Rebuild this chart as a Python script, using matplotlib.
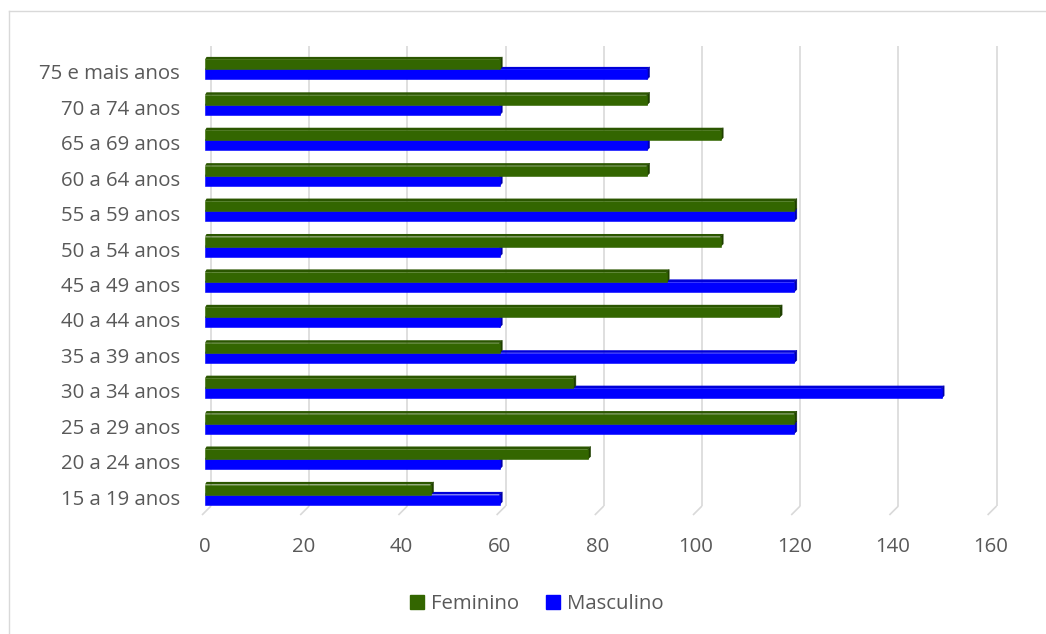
import matplotlib
matplotlib.use("Agg")
import matplotlib.pyplot as plt
from matplotlib.patches import Polygon, Rectangle, Patch
from matplotlib.lines import Line2D

plt.rcParams['font.family'] = ['Open Sans', 'DejaVu Sans']

# Age groups (bottom to top) and counts per sex
age_groups = ["15 a 19 anos", "20 a 24 anos", "25 a 29 anos", "30 a 34 anos",
              "35 a 39 anos", "40 a 44 anos", "45 a 49 anos", "50 a 54 anos",
              "55 a 59 anos", "60 a 64 anos", "65 a 69 anos", "70 a 74 anos",
              "75 e mais anos"]
feminino = [46, 78, 120, 75, 60, 117, 94, 105, 120, 90, 105, 90, 60]
masculino = [60, 60, 120, 150, 120, 60, 120, 60, 120, 60, 90, 60, 90]
x_ticks = [0, 20, 40, 60, 80, 100, 120, 140, 160]

W, H, DPI = 1046, 634, 100
fig = plt.figure(figsize=(W / DPI, H / DPI), dpi=DPI)

# axes placed in pixel terms
ax_l, ax_r, ax_t, ax_b = 205, 990.6, 46, 515
ax = fig.add_axes([ax_l / W, 1 - ax_b / H, (ax_r - ax_l) / W, (ax_b - ax_t) / H])
xmax = 160
ymin, ymax = -0.508, 12.734
ax.set_xlim(0, xmax)
ax.set_ylim(ymin, ymax)

px_x = (ax_r - ax_l) / xmax            # pixels per x unit
px_y = (ax_b - ax_t) / (ymax - ymin)   # pixels per y unit

def ux(p):
    return p / px_x

def uy(p):
    return p / px_y

for s in ax.spines.values():
    s.set_visible(False)
ax.set_facecolor("none")

# 3D-style gridlines: back wall vertical plus a short floor diagonal
grid_c = "#d9d9d9"
back_dx, floor_dx, floor_dy = 6, -3, 9
for v in x_ticks:
    xb = v + ux(back_dx)
    xf = v + ux(floor_dx)
    ax.add_line(Line2D([xb, xb], [ymax, ymin + uy(floor_dy)], color=grid_c,
                       lw=1.2, zorder=0.5, solid_capstyle="butt", clip_on=False))
    ax.add_line(Line2D([xb, xf], [ymin + uy(floor_dy), ymin], color=grid_c,
                       lw=1.2, zorder=0.5, solid_capstyle="butt", clip_on=False))

# bars drawn with a small depth (top face and right side face)
bar_h = uy(10)
dep_x, dep_y = ux(2.6), uy(2.6)
shift = uy(2.5)

def bar3d(y0, value, front, top, side, z):
    x0, x1 = 0, value
    y1 = y0 + bar_h
    ax.add_patch(Polygon([(x0, y1), (x1, y1), (x1 + dep_x, y1 + dep_y),
                          (x0 + dep_x * 0.6, y1 + dep_y)], closed=True,
                         facecolor=top, edgecolor="none", zorder=z))
    ax.add_patch(Polygon([(x1, y0), (x1 + dep_x, y0 + dep_y),
                          (x1 + dep_x, y1 + dep_y), (x1, y1)], closed=True,
                         facecolor=side, edgecolor=side, lw=0.4, zorder=z))
    ax.add_patch(Rectangle((x0, y0), x1 - x0, bar_h, facecolor=front,
                           edgecolor=front, lw=0.4, zorder=z + 0.1))

green, green_top, green_side = "#336600", "#2b5600", "#1f4000"
blue, blue_top, blue_side = "#0000ff", "#0000d8", "#0000a8"

for i, (f, m) in enumerate(zip(feminino, masculino)):
    base = i + shift
    bar3d(base - bar_h, m, blue, blue_top, blue_side, 2 + i * 0.01)
    bar3d(base, f, green, green_top, green_side, 3 + i * 0.01)

ax.set_yticks(range(len(age_groups)))
ax.set_yticklabels(age_groups)
ax.set_xticks(x_ticks)
ax.set_xticklabels([str(v) for v in x_ticks])
ax.tick_params(axis="y", length=0, pad=18, labelsize=14.7, labelcolor="#595959")
ax.tick_params(axis="x", length=0, pad=16, labelsize=14.7, labelcolor="#595959")

# outer chart frame (top and left edges visible)
fig.add_artist(Line2D([8.5 / W, 1.0], [1 - 10.5 / H, 1 - 10.5 / H],
                      transform=fig.transFigure, color="#d9d9d9", lw=1.0))
fig.add_artist(Line2D([8.5 / W, 8.5 / W], [0, 1 - 10.5 / H],
                      transform=fig.transFigure, color="#d9d9d9", lw=1.0))

handles = [Patch(facecolor=green, edgecolor=green, label="Feminino"),
           Patch(facecolor=blue, edgecolor=blue, label="Masculino")]
fig.legend(handles=handles, loc="center", bbox_to_anchor=(537 / W, 1 - 604 / H),
           ncol=2, frameon=False, fontsize=14.7, labelcolor="#595959",
           handlelength=0.7, handleheight=0.7, handletextpad=0.35,
           columnspacing=1.3)

fig.savefig("out.png", dpi=DPI)
